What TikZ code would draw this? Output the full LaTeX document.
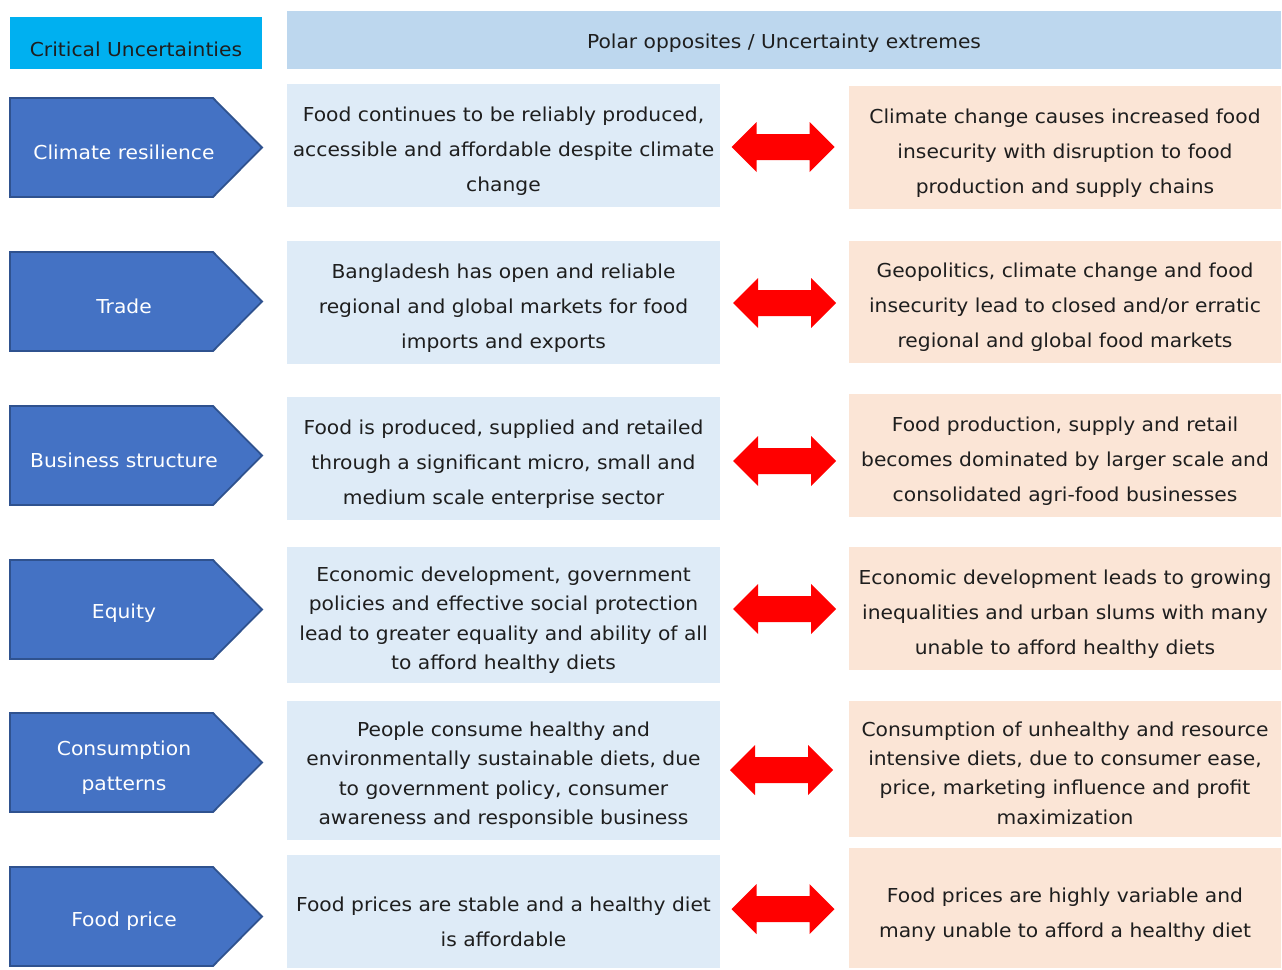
\documentclass[tikz,border=0pt]{standalone}
\usepackage{fontspec}
\setmainfont{DejaVu Sans}[FakeStretch=1.055]
\definecolor{cyanhdr}{HTML}{00B0F0}
\definecolor{bluehdr}{HTML}{BDD7EE}
\definecolor{leftbox}{HTML}{DEEBF7}
\definecolor{rightbox}{HTML}{FBE5D6}
\definecolor{pentfill}{HTML}{4472C4}
\definecolor{pentedge}{HTML}{2F528F}
\definecolor{txt}{HTML}{1E1E1E}
\begin{document}
\begin{tikzpicture}[x=1pt,y=-1pt,
  lbl/.style={font=\fontsize{19.2}{35}\selectfont,text=txt,align=center,inner sep=0pt,yshift=-2.5pt},
  tight/.style={font=\fontsize{19.2}{29.4}\selectfont},
  plbl/.style={font=\fontsize{19.2}{35}\selectfont,text=white,align=center,inner sep=0pt,yshift=-2pt},
  pent/.style={fill=pentfill,draw=pentedge,line width=1.8pt,line join=miter},
  dbl/.style={fill=red,draw=none}]
\useasboundingbox (0,0) rectangle (1282,969);
\fill[white] (0,0) rectangle (1282,969);
% headers
\fill[cyanhdr] (10,17) rectangle (262,69);
\node[lbl] (hcu) at (136,47) {Critical Uncertainties};
\fill[bluehdr] (287,11) rectangle (1281,69);
\node[lbl] (hpo) at (784,41) {Polar opposites / Uncertainty extremes};
% macro for pentagon
\def\pentagon#1#2{\draw[pent] (10,#1) -- (213,#1) -- (262,{(#1+#2)/2}) -- (213,#2) -- (10,#2) -- cycle;}
\def\dblarrow#1#2{\fill[dbl] (#1-51.5,#2) -- (#1-26.5,#2-25) -- (#1-26.5,#2-13) -- (#1+26.5,#2-13) -- (#1+26.5,#2-25) -- (#1+51.5,#2) -- (#1+26.5,#2+25) -- (#1+26.5,#2+13) -- (#1-26.5,#2+13) -- (#1-26.5,#2+25) -- cycle;}
% Row 1
\pentagon{98}{197}
\node[plbl] (p1) at (124,150) {Climate resilience};
\fill[leftbox] (287,84) rectangle (720,207);
\node[lbl] (l1) at (503.5,149) {Food continues to be reliably produced,\\accessible and affordable despite climate\\change};
\fill[rightbox] (849,86) rectangle (1281,209);
\node[lbl] (r1) at (1065,150.5) {Climate change causes increased food\\insecurity with disruption to food\\production and supply chains};
\dblarrow{783}{147}
% Row 2
\pentagon{252}{351}
\node[plbl] (p2) at (124,304) {Trade};
\fill[leftbox] (287,241) rectangle (720,364);
\node[lbl] (l2) at (503.5,305.5) {Bangladesh has open and reliable\\regional and global markets for food\\imports and exports};
\fill[rightbox] (849,241) rectangle (1281,363);
\node[lbl] (r2) at (1065,305) {Geopolitics, climate change and food\\insecurity lead to closed and/or erratic\\regional and global food markets};
\dblarrow{784.5}{303}
% Row 3
\pentagon{406}{505}
\node[plbl] (p3) at (124,458.5) {Business structure};
\fill[leftbox] (287,397) rectangle (720,520);
\node[lbl] (l3) at (503.5,462) {Food is produced, supplied and retailed\\through a significant micro, small and\\medium scale enterprise sector};
\fill[rightbox] (849,394) rectangle (1281,517);
\node[lbl] (r3) at (1065,459) {Food production, supply and retail\\becomes dominated by larger scale and\\consolidated agri-food businesses};
\dblarrow{784.5}{461}
% Row 4
\pentagon{560}{659}
\node[plbl] (p4) at (124,611.5) {Equity};
\fill[leftbox] (287,547) rectangle (720,683);
\node[lbl,tight] (l4) at (503.5,617.5) {Economic development, government\\policies and effective social protection\\lead to greater equality and ability of all\\to afford healthy diets};
\fill[rightbox] (849,547) rectangle (1281,670);
\node[lbl] (r4) at (1065,612) {Economic development leads to growing\\inequalities and urban slums with many\\unable to afford healthy diets};
\dblarrow{784.5}{609}
% Row 5
\pentagon{713}{812}
\node[plbl] (p5) at (124,766) {Consumption\\patterns};
\fill[leftbox] (287,701) rectangle (720,840);
\node[lbl,tight] (l5) at (503.5,772.5) {People consume healthy and\\environmentally sustainable diets, due\\to government policy, consumer\\awareness and responsible business};
\fill[rightbox] (849,701) rectangle (1281,837);
\node[lbl,tight] (r5) at (1065,770.5) {Consumption of unhealthy and resource\\intensive diets, due to consumer ease,\\price, marketing influence and profit\\maximization};
\dblarrow{781.5}{770}
% Row 6
\pentagon{867}{966}
\node[plbl] (p6) at (124,919.5) {Food price};
\fill[leftbox] (287,855) rectangle (720,968);
\node[lbl] (l6) at (503.5,919.5) {Food prices are stable and a healthy diet\\is affordable};
\fill[rightbox] (849,848) rectangle (1281,968);
\node[lbl] (r6) at (1065,912) {Food prices are highly variable and\\many unable to afford a healthy diet};
\dblarrow{783}{909}
\end{tikzpicture}
\end{document}
